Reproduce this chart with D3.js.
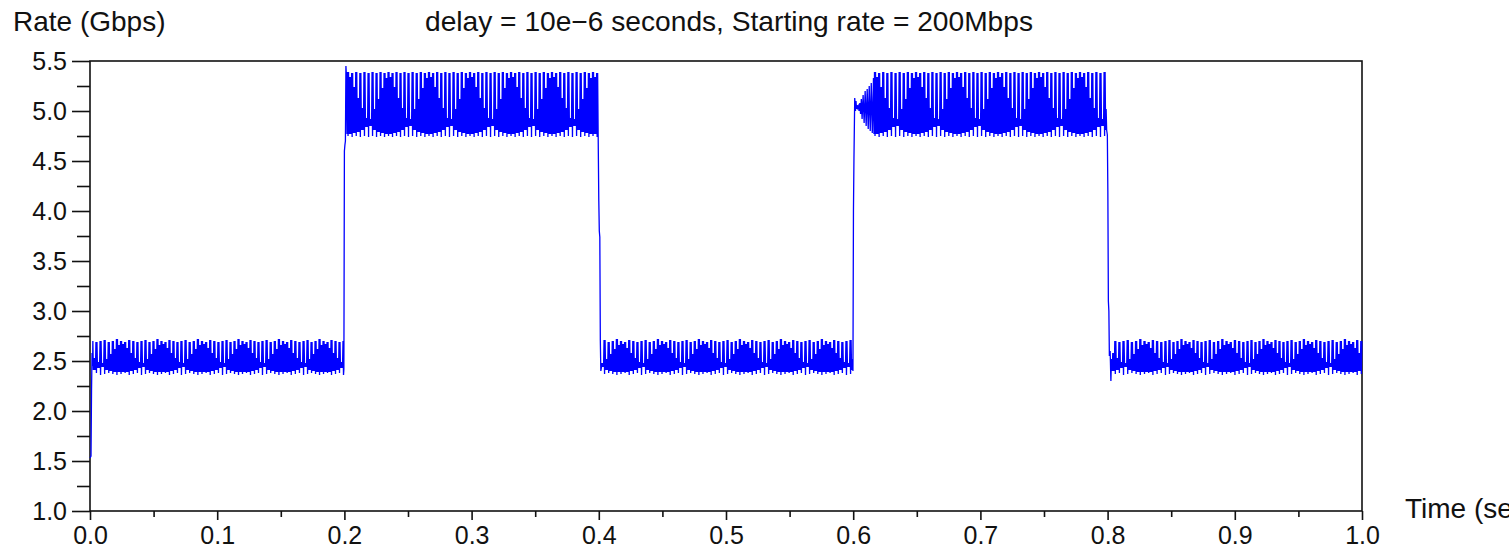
<!DOCTYPE html>
<html>
<head>
  <meta charset="utf-8">
  <script src="https://d3js.org/d3.v7.min.js"></script>
  <style>
    body { margin: 0; background: #fff; }
    svg text { font-family: "Liberation Sans", Arial, sans-serif; fill: #111; }
  </style>
</head>
<body>
<div id="chart"></div>
<script>
// ---- axis ticks ----
const xMajor = [0, 0.1, 0.2, 0.3, 0.4, 0.5, 0.6, 0.7, 0.8, 0.9, 1.0];
const xMinor = [0.05, 0.15, 0.25, 0.35, 0.45, 0.55, 0.65, 0.75, 0.85, 0.95];
const yMajor = [1.0, 1.5, 2.0, 2.5, 3.0, 3.5, 4.0, 4.5, 5.0, 5.5];
const yMinor = [1.25, 1.75, 2.25, 2.75, 3.25, 3.75, 4.25, 4.75, 5.25];

// ---- rate bands (seconds) : low, high, low, high, low ----
const segStart = [0.0020, 0.2015, 0.4020, 0.6156, 0.8034];
const segEnd   = [0.1995, 0.3993, 0.5995, 0.7995, 1.0000];
const segKind  = ["low", "high", "low", "high", "low"];

// waist positions of the beat "humps" in each band (seconds)
const humpEdges = [
  [-0.0244, 0.0079, 0.0401, 0.0715, 0.1038, 0.1352, 0.1675, 0.1989, 0.2311],
  [0.1863, 0.2186, 0.2500, 0.2822, 0.3145, 0.3467, 0.3789, 0.4112],
  [0.3687, 0.4009, 0.4332, 0.4654, 0.4976, 0.5299, 0.5621, 0.5943, 0.6266],
  [0.6006, 0.6329, 0.6651, 0.6973, 0.7296, 0.7618, 0.7940, 0.8263],
  [0.7799, 0.8121, 0.8451, 0.8766, 0.9096, 0.9410, 0.9733, 1.0055]
];

// ten oscillation periods per hump: spike extremes and the dense core (Gbps)
const lowSpikeTop  = [2.70, 2.71, 2.69, 2.70, 2.72, 2.70, 2.69, 2.71, 2.70, 2.69];
const lowSpikeBot  = [2.36, 2.37, 2.38, 2.37, 2.36, 2.37, 2.38, 2.36, 2.37, 2.38];
const lowCoreTop   = [2.48, 2.52, 2.57, 2.62, 2.66, 2.67, 2.63, 2.58, 2.53, 2.49];
const lowCoreBot   = [2.44, 2.41, 2.40, 2.39, 2.39, 2.39, 2.39, 2.40, 2.41, 2.43];
const highSpikeTop = [5.38, 5.39, 5.38, 5.39, 5.38, 5.39, 5.38, 5.39, 5.38, 5.39];
const highSpikeBot = [4.74, 4.75, 4.74, 4.75, 4.74, 4.75, 4.74, 4.75, 4.74, 4.75];
const highCoreTop  = [4.92, 5.02, 5.12, 5.23, 5.33, 5.34, 5.24, 5.13, 5.03, 4.93];
const highCoreBot  = [4.85, 4.81, 4.79, 4.78, 4.77, 4.77, 4.78, 4.79, 4.81, 4.84];

// transitions between bands [time, rate]
const startPts = [[0, 1.53], [0.0008, 1.55], [0.0012, 2.2], [0.0016, 2.58], [0.0020, 2.45]];
const rise1Pts = [[0.1996, 2.42], [0.2000, 4.60], [0.2004, 4.66], [0.2008, 4.70], [0.2012, 5.45]];
const drop1Pts = [[0.3995, 4.76], [0.4000, 4.10], [0.4004, 3.80], [0.4008, 3.74], [0.4012, 2.70], [0.4016, 2.40]];
const rise2Pts = [[0.5998, 2.40], [0.6002, 4.00], [0.6006, 4.53], [0.6012, 5.13], [0.6018, 5.00],
  [0.6022, 5.10], [0.6026, 5.02], [0.6030, 5.06], [0.6034, 5.03], [0.6040, 5.05], [0.6046, 5.00],
  [0.6052, 5.08], [0.6058, 4.97], [0.6064, 5.12], [0.6070, 4.92], [0.6078, 5.16], [0.6086, 4.88],
  [0.6094, 5.20], [0.6102, 4.85], [0.6110, 5.22], [0.6118, 4.82], [0.6126, 5.25], [0.6134, 4.80],
  [0.6142, 5.28], [0.6150, 4.78]];
const drop2Pts = [[0.7998, 4.76], [0.8002, 4.20], [0.8006, 3.10], [0.8010, 3.00], [0.8014, 2.55],
  [0.8020, 2.60], [0.8026, 2.30], [0.8030, 2.52]];
const transitions = [startPts, rise1Pts, drop1Pts, rise2Pts, drop2Pts];

// ---- layout ----
var width = 1509, height = 552;
var x = d3.scaleLinear().domain([0, 1]).range([90, 1362]);
var y = d3.scaleLinear().domain([1, 5.5]).range([511, 61]);

var svg = d3.select("#chart").append("svg")
  .attr("width", width).attr("height", height);

// build the rate series
var series = [];
segKind.forEach(function(kind, s) {
  transitions[s].forEach(function(p) { series.push(p); });
  var sTop = kind == "low" ? lowSpikeTop : highSpikeTop;
  var sBot = kind == "low" ? lowSpikeBot : highSpikeBot;
  var cTop = kind == "low" ? lowCoreTop : highCoreTop;
  var cBot = kind == "low" ? lowCoreBot : highCoreBot;
  var edges = humpEdges[s];
  for (var h = 0; h < edges.length - 1; h++) {
    var w = (edges[h + 1] - edges[h]) / sTop.length;
    for (var k = 0; k < sTop.length; k++) {
      var t0 = edges[h] + k * w;
      var vals = [sTop[k], sBot[k], sTop[k], cBot[k], cTop[k], cBot[k], cTop[k], cBot[k]];
      vals.forEach(function(v, j) {
        var t = t0 + j * w / 8;
        if (t >= segStart[s] && t <= segEnd[s]) series.push([t, v]);
      });
    }
  }
});

// frame
svg.append("rect")
  .attr("x", x(0)).attr("y", y(5.5))
  .attr("width", x(1) - x(0)).attr("height", y(1) - y(5.5))
  .attr("fill", "none").attr("stroke", "#111").attr("stroke-width", 1.6);

// the rate line
svg.append("path")
  .datum(series)
  .attr("fill", "none")
  .attr("stroke", "#0000ff")
  .attr("stroke-width", 1.3)
  .attr("d", d3.line().x(function(d) { return x(d[0]); }).y(function(d) { return y(d[1]); }));

// axes
function styleAxis(g) {
  g.select(".domain").remove();
  g.selectAll(".tick line").attr("stroke", "#111").attr("stroke-width", 1.6);
  g.selectAll("text").style("font-size", "25px").attr("fill", "#111");
}
svg.append("g").attr("transform", "translate(90,0)")
  .call(d3.axisLeft(y).tickValues(yMinor).tickSize(13).tickFormat(""))
  .call(styleAxis);
svg.append("g").attr("transform", "translate(90,0)")
  .call(d3.axisLeft(y).tickValues(yMajor).tickSize(18).tickPadding(5).tickFormat(d3.format(".1f")))
  .call(styleAxis);
svg.append("g").attr("transform", "translate(0,511)")
  .call(d3.axisBottom(x).tickValues(xMinor).tickSize(6).tickFormat(""))
  .call(styleAxis);
svg.append("g").attr("transform", "translate(0,511)")
  .call(d3.axisBottom(x).tickValues(xMajor).tickSize(9).tickPadding(6).tickFormat(d3.format(".1f")))
  .call(styleAxis);

// labels
svg.append("text").attr("x", 13).attr("y", 31).style("font-size", "28px").text("Rate (Gbps)");
svg.append("text").attr("x", 425).attr("y", 31).style("font-size", "28px")
  .attr("textLength", 608).attr("lengthAdjust", "spacingAndGlyphs")
  .text("delay = 10e\u22126 seconds, Starting rate = 200Mbps");
svg.append("text").attr("x", 1405).attr("y", 518).style("font-size", "28px").text("Time (seconds)");
</script>
</body>
</html>
